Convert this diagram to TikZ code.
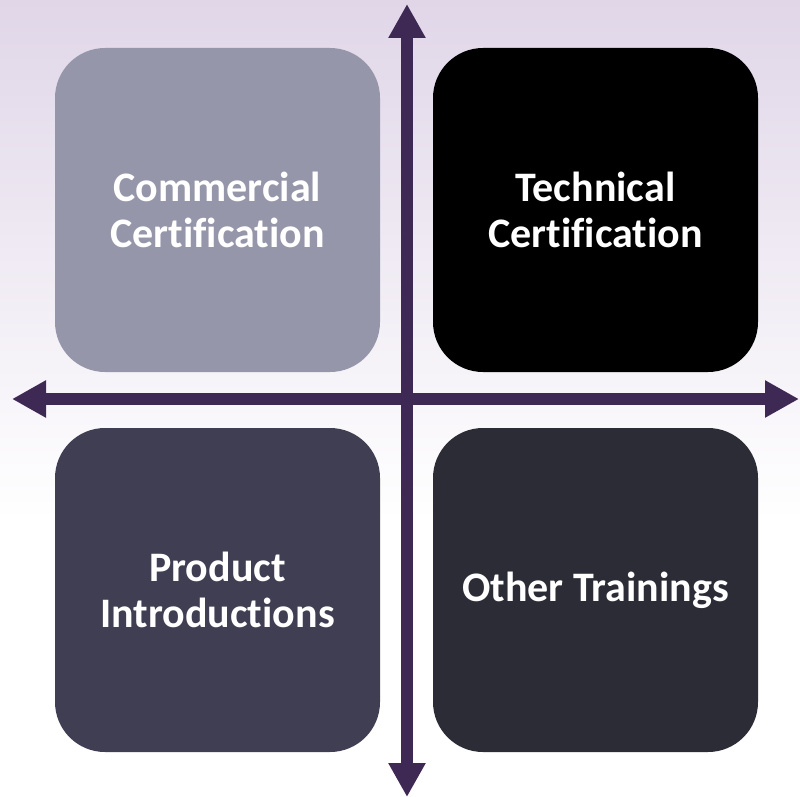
\documentclass[tikz,border=0pt]{standalone}
\usepackage{fontspec}
\setmainfont{Carlito}[Ligatures=NoCommon]
\usetikzlibrary{arrows.meta}

\definecolor{axiscol}{RGB}{62,40,84}
\definecolor{bgtop}{RGB}{224,214,232}
\definecolor{boxa}{RGB}{150,150,170}
\definecolor{boxc}{RGB}{64,62,82}
\definecolor{boxd}{RGB}{44,44,54}

\begin{document}
\begin{tikzpicture}[x=1pt, y=-1pt,
  quad/.style={rounded corners=50pt, minimum width=325pt, minimum height=324pt,
    text=white, align=center, font=\fontsize{42}{46}\selectfont\bfseries},
  axis/.style={axiscol, line width=12pt,
    {Triangle[width=35pt,length=34pt]}-{Triangle[width=35pt,length=34pt]}}]
  \useasboundingbox (0,0) rectangle (800,797);
  \shade[top color=bgtop, bottom color=white] (0,0) rectangle (800,520);
  \fill[white] (0,520) rectangle (800,797);

  \node[quad, fill=boxa] (comm) at (217.5,210) {Commercial\\Certification};
  \node[quad, fill=black] (tech) at (595.5,210) {Technical\\Certification};
  \node[quad, fill=boxc] (prod) at (217.5,590) {Product\\Introductions};
  \node[quad, fill=boxd] (other) at (595.5,590) {Other Trainings};

  \coordinate (top) at (407,4);
  \coordinate (bottom) at (407,797);
  \coordinate (left) at (12,399);
  \coordinate (right) at (799,399);
  \draw[axis] (top) -- (bottom);
  \draw[axis] (left) -- (right);
\end{tikzpicture}
\end{document}
